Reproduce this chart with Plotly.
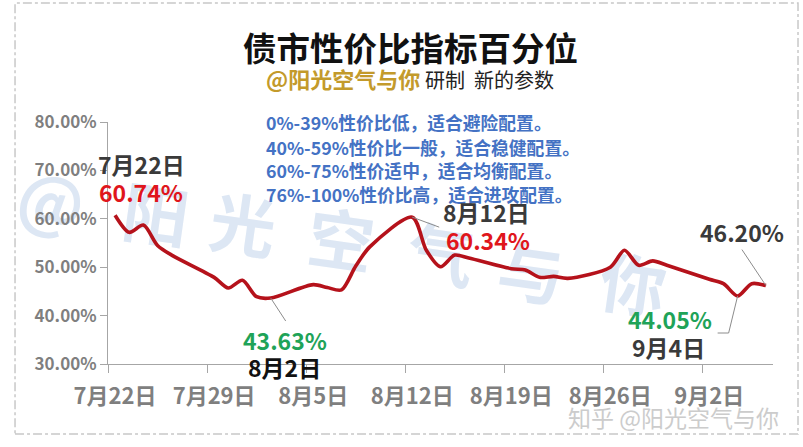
import plotly.graph_objects as go
import pandas as pd

# ---------------- data ----------------
dates = ["2024-07-22", "2024-07-23", "2024-07-24", "2024-07-25", "2024-07-26",
         "2024-07-29", "2024-07-30", "2024-07-31", "2024-08-01", "2024-08-02",
         "2024-08-05", "2024-08-06", "2024-08-07", "2024-08-08", "2024-08-09",
         "2024-08-12", "2024-08-13", "2024-08-14", "2024-08-15", "2024-08-16",
         "2024-08-19", "2024-08-20", "2024-08-21", "2024-08-22", "2024-08-23",
         "2024-08-26", "2024-08-27", "2024-08-28", "2024-08-29", "2024-08-30",
         "2024-09-02", "2024-09-03", "2024-09-04", "2024-09-05", "2024-09-06"]
percentile = [60.74, 57.2, 58.7, 54.5, 52.5,
              47.9, 45.7, 47.3, 43.9, 43.63,
              46.4, 45.8, 45.3, 50.2, 54.2,
              60.34, 53.5, 50.1, 52.5, 51.9,
              49.7, 49.4, 47.9, 48.1, 47.7,
              50.0, 53.5, 50.4, 51.3, 50.4,
              47.5, 46.6, 44.05, 46.6, 46.20]

tick_dates = ["2024-07-22", "2024-07-29", "2024-08-05", "2024-08-12",
              "2024-08-19", "2024-08-26", "2024-09-02"]
tick_labels = ["7月22日", "7月29日", "8月5日", "8月12日", "8月19日", "8月26日", "9月2日"]

title = "债市性价比指标百分位"
author = "@阳光空气与你"
subtitle_rest = "研制  新的参数"
guide_lines = ["0%-39%性价比低，适合避险配置。",
               "40%-59%性价比一般，适合稳健配置。",
               "60%-75%性价适中，适合均衡配置。",
               "76%-100%性价比高，适合进攻配置。"]
watermark_chars = ["@", "阳", "光", "空", "气", "与", "你"]
footer = "知乎 @阳光空气与你"

# ---------------- styling ----------------
FONT = "Noto Sans CJK SC"
RED_LINE = "#B5121B"
RED_TXT = "#E0161C"
GREEN_TXT = "#1FA358"
DARK_TXT = "#3a3a3a"
AXIS_GRAY = "#a6a6a6"
TICK_TXT = "#7f7f7f"
BLUE_TXT = "#4472C4"
GOLD = "#C39A2B"
WM_COLOR = "#dde7f4"
LEADER = "#8c8c8c"

half_day = pd.Timedelta(hours=12)
x_vals = pd.to_datetime(dates) + half_day
y_vals = [v / 100 for v in percentile]

fig = go.Figure()
fig.add_trace(go.Scatter(
    x=x_vals, y=y_vals, mode="lines",
    line=dict(color=RED_LINE, width=3.6, shape="spline", smoothing=0.8),
    hoverinfo="skip", showlegend=False,
))

fig.update_layout(
    width=803, height=447,
    margin=dict(l=108, r=30, t=122, b=83),
    paper_bgcolor="white",
    plot_bgcolor="rgba(0,0,0,0)",
    font=dict(family=FONT),
    showlegend=False,
)

fig.update_xaxes(
    type="date",
    range=["2024-07-22", "2024-09-07"],
    showgrid=False, zeroline=False,
    showline=True, linecolor=AXIS_GRAY, linewidth=1,
    tickmode="array",
    tickvals=pd.to_datetime(tick_dates) + half_day,
    ticktext=tick_labels,
    ticks="",
    ticklabelstandoff=13,
    tickfont=dict(family=FONT, size=22, color=TICK_TXT, weight="bold"),
    minor=dict(tickmode="array", tickvals=tick_dates, ticks="outside",
               ticklen=8, tickcolor=AXIS_GRAY, tickwidth=1, showgrid=False),
)
fig.update_yaxes(
    range=[0.30, 0.80],
    tickmode="linear", tick0=0.30, dtick=0.10,
    tickformat=".2%",
    showgrid=False, zeroline=False,
    showline=True, linecolor=AXIS_GRAY, linewidth=1,
    ticks="outside", ticklen=7, tickcolor=AXIS_GRAY,
    tickfont=dict(family=FONT, size=17, color=TICK_TXT, weight="bold"),
)

shapes = []
# watermark characters drawn beneath the line
wm_pos = [(-0.0872, 0.6446), (0.0707, 0.5868), (0.2015, 0.5455), (0.3489, 0.4835),
          (0.4992, 0.4215), (0.6346, 0.3471), (0.7880, 0.2975)]
for ch, (px, py) in zip(watermark_chars, wm_pos):
    shapes.append(dict(
        type="rect", xref="paper", yref="paper",
        x0=px - 0.01, x1=px + 0.01, y0=py - 0.01, y1=py + 0.01,
        line=dict(width=0), fillcolor="rgba(0,0,0,0)", layer="below",
        label=dict(text=ch, textposition="middle center", textangle=8,
                   font=dict(family=FONT, size=66, color=WM_COLOR, weight="bold")),
    ))
# dashed border
shapes.append(dict(
    type="rect", xref="paper", yref="paper",
    x0=-0.1398, x1=1.0376, y0=-0.289, y1=1.4917,
    line=dict(color="#c8c8c8", width=1.5, dash="dashdot"),
    fillcolor="rgba(0,0,0,0)", layer="above",
))


def pt(i):
    return x_vals[i], y_vals[i]


def leader(i, path):
    """Leader line anchored at a data point; path offsets in pixels (y up)."""
    x, y = pt(i)
    shapes.append(dict(
        type="path", xref="x", yref="y", xsizemode="pixel", ysizemode="pixel",
        xanchor=x, yanchor=y, path=path,
        line=dict(color=LEADER, width=1), layer="above",
    ))


ann = []
# title & subtitle
ann.append(dict(xref="paper", yref="paper", x=0.4556, y=1.314, showarrow=False,
                xanchor="center", yanchor="middle",
                text=f"<b>{title}</b>", font=dict(family=FONT, size=33.5, color="#111111")))
ann.append(dict(xref="paper", yref="paper", x=0.454, y=1.1818, showarrow=False,
                xanchor="center", yanchor="middle",
                text=f"<b><span style='color:{GOLD}'>{author}</span></b> "
                     f"<span style='font-size:20px'>{subtitle_rest}</span>",
                font=dict(family=FONT, size=22, color="#222222")))
# blue guide text
for line, py in zip(guide_lines, [1.0, 0.8967, 0.8017, 0.7025]):
    ann.append(dict(xref="paper", yref="paper", x=0.2346, y=py, showarrow=False,
                    xanchor="left", yanchor="middle", text=f"<b>{line}</b>",
                    font=dict(family=FONT, size=17.8, color=BLUE_TXT)))
# footer watermark
ann.append(dict(xref="paper", yref="paper", x=0.851, y=-0.219, showarrow=False,
                xanchor="center", yanchor="middle",
                text=footer, font=dict(family=FONT, size=23, color="#cccccc")))


def label(i, text, color, dx, dy, size=23):
    x, y = pt(i)
    ann.append(dict(x=x, y=y, xref="x", yref="y", showarrow=False,
                    xanchor="center", yanchor="middle",
                    text=f"<b>{text}</b>", xshift=dx, yshift=dy,
                    font=dict(family=FONT, size=size, color=color)))


i_first = 0
i_peak = dates.index("2024-08-12")
i_low1 = dates.index("2024-08-02")
i_low2 = dates.index("2024-09-04")
i_last = len(dates) - 1

label(i_first, "7月22日", DARK_TXT, 26, 51)
label(i_first, f"{percentile[i_first]:.2f}%", RED_TXT, 26, 23)

label(i_peak, "8月12日", DARK_TXT, 74, 5)
label(i_peak, f"{percentile[i_peak]:.2f}%", RED_TXT, 76, -23)
leader(i_peak, "M0,0 L27,-10")

label(i_low1, f"{percentile[i_low1]:.2f}%", GREEN_TXT, 14, -42)
label(i_low1, "8月2日", "#111111", 14, -69)
leader(i_low1, "M0,0 L15,-23")

label(i_low2, f"{percentile[i_low2]:.2f}%", GREEN_TXT, -68, -23)
label(i_low2, "9月4日", DARK_TXT, -69, -51)
leader(i_low2, "M0,0 L-9,-37 L-20,-37")

label(i_last, f"{percentile[i_last]:.2f}%", DARK_TXT, -24, 54)
leader(i_last, "M0,0 L-24,36")

fig.update_layout(shapes=shapes, annotations=ann)

fig.write_html("out.html", config={"displayModeBar": False},
               post_script="document.body.style.margin='0';")
